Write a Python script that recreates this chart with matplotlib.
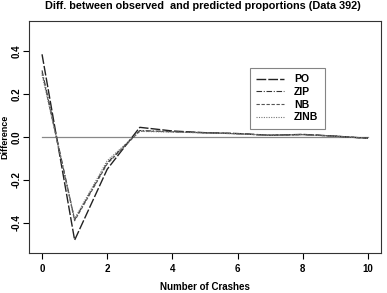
import matplotlib
matplotlib.use("Agg")
import matplotlib.pyplot as plt

crashes = [0, 1, 2, 3, 4, 5, 6, 7, 8, 9, 10]
po = [0.385, -0.480, -0.150, 0.045, 0.028, 0.020, 0.016, 0.008, 0.012, 0.004, -0.006]
zip_ = [0.310, -0.385, -0.120, 0.030, 0.025, 0.020, 0.016, 0.008, 0.012, 0.004, -0.006]
nb = [0.300, -0.390, -0.125, 0.028, 0.024, 0.019, 0.015, 0.008, 0.011, 0.004, -0.006]
zinb = [0.290, -0.380, -0.110, 0.026, 0.023, 0.019, 0.015, 0.007, 0.011, 0.003, -0.006]
xticks = [0, 2, 4, 6, 8, 10]
yticks = [-0.4, -0.2, 0.0, 0.2, 0.4]

plt.rcParams['font.family'] = ['Liberation Sans', 'DejaVu Sans']
W, H = 387, 293
fig = plt.figure(figsize=(W/100, H/100), dpi=100)
ax = fig.add_axes([29/W, 1-253/H, (381-29)/W, (253-21)/H])

ax.plot([0, 10], [0, 0], color='#888888', lw=0.9)
ax.plot(crashes, po, color='#222222', lw=1.0, ls=(0, (7, 1.5)), label='PO')
ax.plot(crashes, zip_, color='#333333', lw=0.8, ls=(0, (5, 1.5, 1, 1.5)), label='ZIP')
ax.plot(crashes, nb, color='#555555', lw=0.8, ls=(0, (3, 1.5)), label='NB')
ax.plot(crashes, zinb, color='#777777', lw=0.8, ls=(0, (1, 1.2)), label='ZINB')

ax.set_xlim(-0.4, 10.4)
ax.set_ylim(-0.54, 0.54)
ax.set_xticks(xticks)
ax.set_xticklabels([str(v) for v in xticks], fontweight='bold', fontsize=7)
ax.set_yticks(yticks)
ax.set_yticklabels([f"{v:.1f}" for v in yticks], fontweight='bold', fontsize=7, rotation=90, va='center')
ax.tick_params(length=4, width=0.8, direction='out')
ax.tick_params(axis='x', pad=4)
ax.tick_params(axis='y', pad=1.5)
for s in ax.spines.values():
    s.set_linewidth(0.8)
    s.set_color('#333333')

ax.set_xlabel('Number of Crashes', fontweight='bold', fontsize=7, labelpad=6)
fig.text(5/W, 1-137/H, 'Difference', fontweight='bold', fontsize=6.5, rotation=90,
         ha='center', va='center')
fig.text(203/W, 1-9/H, 'Diff. between observed  and predicted proportions (Data 392)',
         fontweight='bold', fontsize=7.8, ha='center', va='baseline')

leg = ax.legend(loc='upper left', bbox_to_anchor=((245-29)/352, (253-63)/232),
                prop={'weight': 'bold', 'size': 7.5}, frameon=True, fancybox=False,
                edgecolor='#666666', handlelength=2.6, handletextpad=1.0,
                labelspacing=0.25, borderpad=0.6)
leg.get_frame().set_linewidth(0.8)

fig.savefig('out.png', dpi=100)
